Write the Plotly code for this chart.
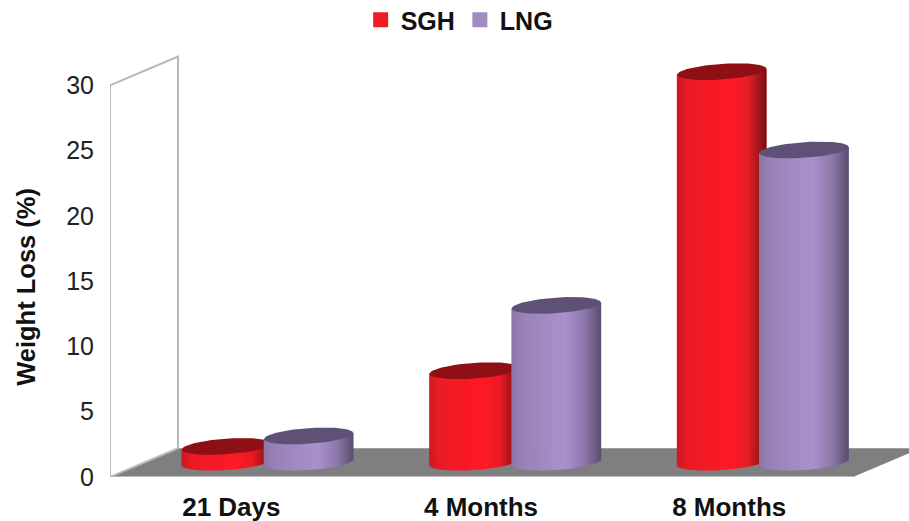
import numpy as np
import plotly.graph_objects as go

categories = ["21 Days", "4 Months", "8 Months"]
sgh_values = [1.2, 7, 29.9]
lng_values = [2, 12, 23.9]
y_ticks = [0, 5, 10, 15, 20, 25, 30]

# chart geometry in axis units
X_MIN, X_MAX = -0.5, 2.726
Y_MIN, Y_MAX = 0, 32.7
DEPTH_X, DEPTH_Y = 0.2745, 2.2
BASE = 1.14
HALF_W = 0.18
CAP_H = 0.6
CAP_TILT = 0.23
OFFSETS = {"SGH": -0.03, "LNG": 0.302}
N = 45

RED_STOPS = [(0, (205, 24, 32)), (0.12, (236, 28, 37)), (0.6, (255, 26, 38)),
             (0.8, (232, 26, 36)), (1, (125, 14, 18))]
PUR_STOPS = [(0, (142, 120, 168)), (0.12, (152, 130, 182)), (0.6, (170, 145, 207)),
             (0.82, (142, 120, 170)), (1, (92, 78, 112))]


def shade(stops, t):
    pos = [s[0] for s in stops]
    rgb = [int(np.interp(t, pos, [s[1][i] for s in stops])) for i in range(3)]
    return f"rgb({rgb[0]},{rgb[1]},{rgb[2]})"


def cylinder_traces(name, values, stops, cap, xa, ya):
    xs, heights, bases, cols = [], [], [], []
    cap_x, cap_y = [], []
    us = (np.arange(N) + 0.5) / N * 2 - 1
    for i, v in enumerate(values):
        cx = i + OFFSETS[name]
        for u in us:
            bottom = BASE + CAP_TILT * u - CAP_H * np.sqrt(1 - u * u)
            top = BASE + v + CAP_TILT * u
            xs.append(cx + u * HALF_W)
            bases.append(bottom)
            heights.append(top - bottom)
            cols.append(shade(stops, (u + 1) / 2))
        th = np.linspace(0, 2 * np.pi, 80)
        cap_x += list(cx + HALF_W * np.cos(th)) + [None]
        cap_y += list(BASE + v + CAP_TILT * np.cos(th) + CAP_H * np.sin(th)) + [None]
    body = go.Bar(x=xs, y=heights, base=bases, width=2 * HALF_W / N * 1.35,
                  marker=dict(color=cols, line=dict(width=0)),
                  showlegend=False, hoverinfo="skip", xaxis=xa, yaxis=ya)
    top = go.Scatter(x=cap_x, y=cap_y, mode="lines", fill="toself", fillcolor=cap,
                     line=dict(width=0), showlegend=False, hoverinfo="skip", xaxis=xa, yaxis=ya)
    return [body, top]


fig = go.Figure()

# floor and back wall
fx0, fx1 = X_MIN, 2.5
fig.add_trace(go.Scatter(
    x=[fx0, fx0 + DEPTH_X, fx1 + DEPTH_X, fx1, fx0],
    y=[0, DEPTH_Y, DEPTH_Y, 0, 0], mode="lines", fill="toself", fillcolor="#7f7f7f",
    line=dict(width=0), showlegend=False, hoverinfo="skip"))
fig.add_trace(go.Scatter(
    x=[fx1, fx0, fx0, fx0 + DEPTH_X, fx0 + DEPTH_X, fx0],
    y=[0, 0, 30, 30 + DEPTH_Y, DEPTH_Y, 0], mode="lines",
    line=dict(color="#b9b9b9", width=2), showlegend=False, hoverinfo="skip"))

for t in cylinder_traces("SGH", sgh_values, RED_STOPS, "#8e1014", "x2", "y2"):
    fig.add_trace(t)
for t in cylinder_traces("LNG", lng_values, PUR_STOPS, "#5f5175", "x3", "y3"):
    fig.add_trace(t)

fig.add_trace(go.Scatter(x=[None], y=[None], mode="markers", name="SGH",
                         marker=dict(symbol="square", size=15, color="#ee1c25")))
fig.add_trace(go.Scatter(x=[None], y=[None], mode="markers", name="LNG",
                         marker=dict(symbol="square", size=15, color="#a08cc0")))

hidden = dict(visible=False, fixedrange=True)
fig.update_layout(
    width=909, height=521, autosize=False,
    margin=dict(l=110, r=0, t=50, b=44, autoexpand=False),
    paper_bgcolor="white", plot_bgcolor="white",
    barmode="overlay",
    font=dict(family="Liberation Sans", size=25, color="#1a1a1a"),
    xaxis=dict(range=[X_MIN, X_MAX], tickmode="array", tickvals=[-0.01, 0.998, 2.0],
               ticktext=categories, showgrid=False, zeroline=False, showline=False,
               ticks="outside", ticklen=7, tickcolor="rgba(0,0,0,0)",
               tickfont=dict(family="Liberation Sans", size=26, color="#111", weight="bold")),
    yaxis=dict(range=[Y_MIN, Y_MAX], tickmode="array", tickvals=y_ticks,
               showgrid=False, zeroline=False, showline=False,
               ticks="outside", ticklen=10, tickcolor="rgba(0,0,0,0)",
               tickfont=dict(family="Liberation Sans", size=25, color="#222")),
    xaxis2=dict(range=[X_MIN, X_MAX], overlaying="x", **hidden),
    yaxis2=dict(range=[Y_MIN, Y_MAX], overlaying="y", **hidden),
    xaxis3=dict(range=[X_MIN, X_MAX], overlaying="x", **hidden),
    yaxis3=dict(range=[Y_MIN, Y_MAX], overlaying="y", **hidden),
    legend=dict(orientation="h", x=0.437, xref="paper", xanchor="center", y=1.124, yref="paper",
                yanchor="top", font=dict(family="Liberation Sans", size=25, color="#111", weight="bold"),
                bgcolor="rgba(0,0,0,0)", itemclick=False, itemdoubleclick=False),
    annotations=[dict(text="<b>Weight Loss (%)</b>", textangle=-90, showarrow=False,
                      xref="paper", yref="paper", x=-0.106, y=0.446,
                      xanchor="center", yanchor="middle",
                      font=dict(family="Liberation Sans", size=25.5, color="#111"))],
)
fig.write_html("out.html", config={"displayModeBar": False},
               post_script="document.body.style.margin='0';document.documentElement.style.margin='0';")
